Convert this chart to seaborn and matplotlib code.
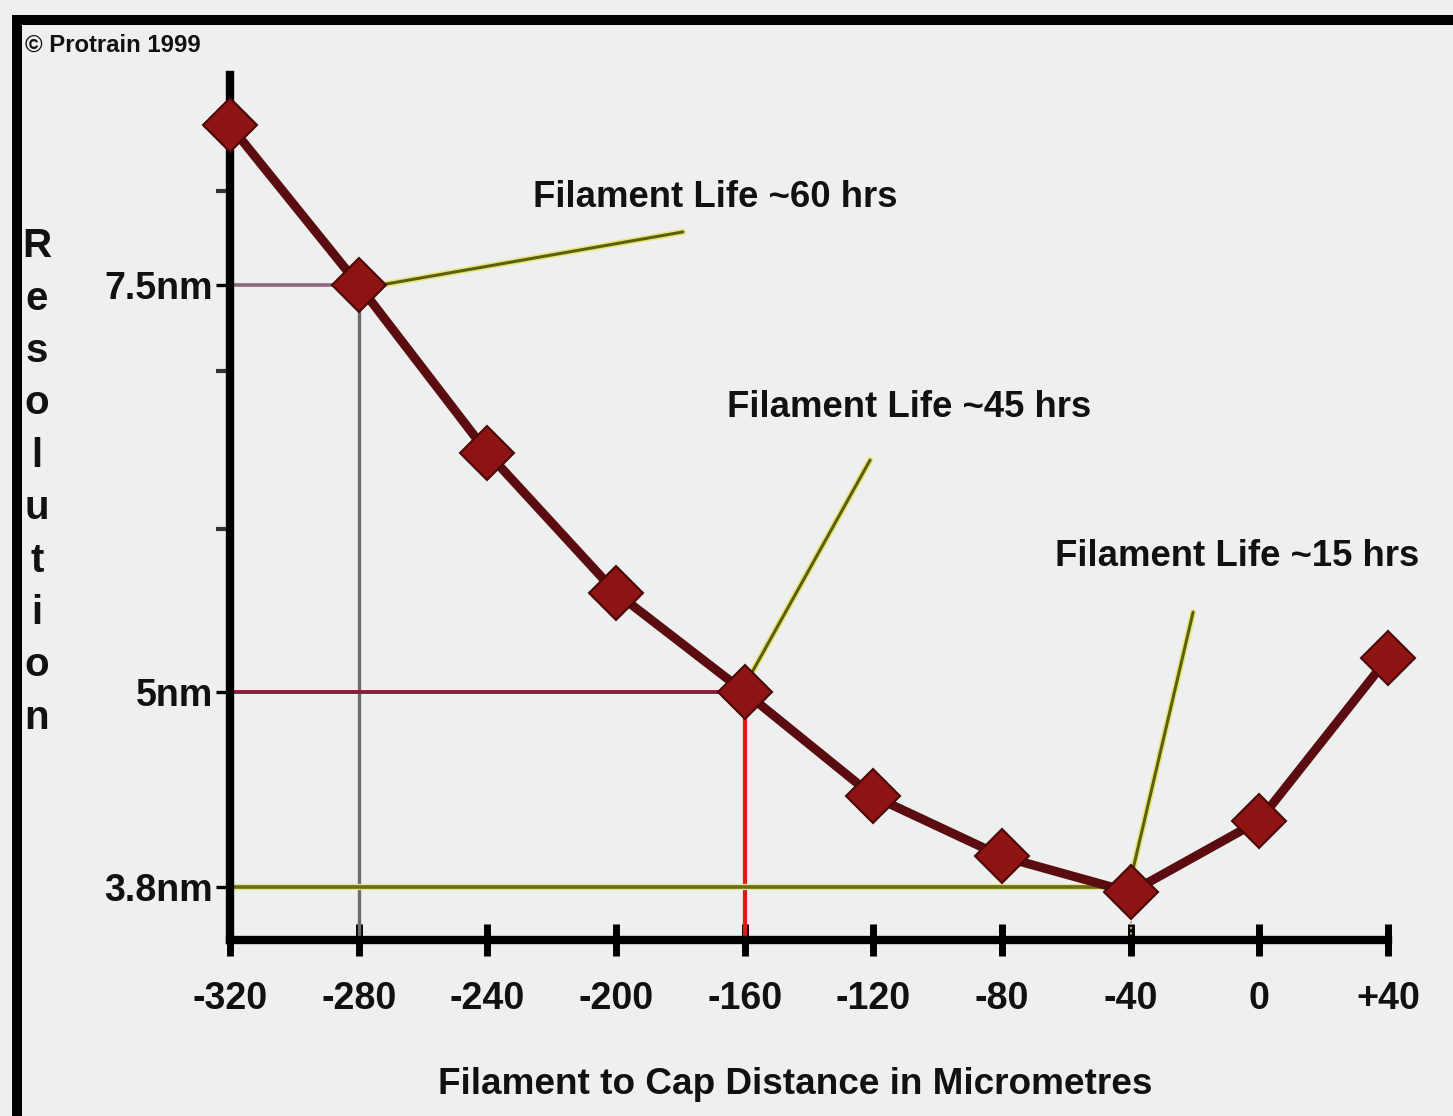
import matplotlib
matplotlib.use("Agg")
import matplotlib.pyplot as plt
import matplotlib.patheffects as pe
from matplotlib import font_manager
from matplotlib.patches import Rectangle
import seaborn as sns
import pandas as pd

# ---------------- data ----------------
distance = [-320, -280, -240, -200, -160, -120, -80, -40, 0, 40]
resolution = [8.48, 7.5, 6.47, 5.61, 5.0, 4.36, 3.99, 3.77, 4.21, 5.21]
x_tick_values = [-320, -280, -240, -200, -160, -120, -80, -40, 0, 40]
x_tick_labels = ["-320", "-280", "-240", "-200", "-160", "-120", "-80", "-40", "0", "+40"]
y_tick_values = [3.8, 5.0, 7.5]
y_tick_labels = ["3.8nm", "5nm", "7.5nm"]
y_minor_values = [6.0, 6.97, 8.08]
guide_60 = (-280, 7.5)
guide_45 = (-160, 5.0)
guide_15 = (-40, 3.8)
notes = ["Filament Life ~60 hrs", "Filament Life ~45 hrs", "Filament Life ~15 hrs"]
note_text_pos = [(-225.8, 8.04), (-165.5, 6.75), (-63.5, 5.835)]
note_leader_start = [(-273.2, 7.5), (-158.3, 5.10), (-40, 3.85)]
note_leader_end = [(-179.2, 7.826), (-121.0, 6.425), (-20.6, 5.49)]

df = pd.DataFrame({"distance": distance, "resolution": resolution})


def has_font(name):
    try:
        font_manager.findfont(font_manager.FontProperties(family=name),
                              fallback_to_default=False)
        return True
    except Exception:
        return False


sns.set_style("white")
NARROW = has_font("Liberation Sans Narrow")
FAM = ["Liberation Sans Narrow", "Liberation Sans", "DejaVu Sans"] if NARROW \
    else ["Liberation Sans", "DejaVu Sans"]
plt.rcParams["font.family"] = FAM
plt.rcParams["font.weight"] = "bold"
S = 1.0 if NARROW else 0.82
FS = 33 * S

BG = "#eeefef"
W, H = 1453, 1116
fig = plt.figure(figsize=(W / 100, H / 100), dpi=100, facecolor=BG)

# frame of the scanned picture
fig.add_artist(Rectangle((12 / W, 1 - 25 / H), 1 - 12 / W, 10 / H,
                         transform=fig.transFigure, color="black", lw=0))
fig.add_artist(Rectangle((12 / W, 0), 10 / W, 1 - 15 / H,
                         transform=fig.transFigure, color="black", lw=0))

ax = fig.add_axes([230 / W, 1 - 940 / H, (1388 - 230) / W, (940 - 75) / H])
ax.set_facecolor("none")
ax.set_xlim(-320, 40)
ax.set_ylim(3.4767, 8.79)

# guide lines
ax.plot([-320, guide_60[0]], [guide_60[1]] * 2, color="#8a6a7a", lw=2.6, zorder=2)
ax.plot([guide_60[0]] * 2, [3.4767, guide_60[1]], color="#6e6a70", lw=2.4, zorder=2)
ax.plot([-320, guide_45[0]], [guide_45[1]] * 2, color="#8c1c3c", lw=2.8, zorder=2)
ax.plot([guide_45[0]] * 2, [3.4767, guide_45[1]], color="#e01a1a", lw=3.0, zorder=2)
ax.plot([-320, guide_15[0]], [guide_15[1]] * 2, color="#6a6c1c", lw=2.6, zorder=2,
        path_effects=[pe.Stroke(linewidth=4.5, foreground="#e4e490"), pe.Normal()])
ax.plot([guide_15[0]] * 2, [3.4767, resolution[7]], color="#c8a060", lw=1.5,
        ls=":", zorder=2)

# main curve
sns.lineplot(data=df, x="distance", y="resolution", ax=ax, color="#5a0c10",
             linewidth=6.5, marker="D", markersize=27, markerfacecolor="#8e1414",
             markeredgecolor="#4a0808", markeredgewidth=1.5, zorder=5,
             clip_on=False)

# annotations
for txt, tp, ls, le in zip(notes, note_text_pos, note_leader_start, note_leader_end):
    ax.plot([ls[0], le[0]], [ls[1], le[1]], color="#5e5e10", lw=2.2, zorder=4,
            solid_capstyle="round",
            path_effects=[pe.Stroke(linewidth=4.5, foreground="#e6e67a"), pe.Normal()])
    ax.text(tp[0], tp[1], txt, fontsize=FS * 0.97, fontweight="bold", color="#111111",
            ha="left", va="center", zorder=6)

# axes styling
for side in ["top", "right"]:
    ax.spines[side].set_visible(False)
for side in ["left", "bottom"]:
    ax.spines[side].set_color("black")
    ax.spines[side].set_linewidth(6)
    ax.spines[side].set_zorder(3)

ax.set_xticks(x_tick_values, x_tick_labels)
ax.set_yticks(y_tick_values, y_tick_labels)
ax.set_yticks(y_minor_values, minor=True)
ax.tick_params(axis="x", which="both", bottom=True, top=False)
ax.tick_params(axis="y", which="both", left=True, right=False)
ax.tick_params(axis="x", direction="inout", length=23, width=5, pad=18,
               labelsize=FS, colors="black")
ax.tick_params(axis="y", which="major", direction="out", length=10, width=2.4,
               pad=2, labelsize=FS, colors="black")
ax.tick_params(axis="y", which="minor", direction="out", length=10, width=3,
               colors="#333333")
for lab in ax.get_xticklabels() + ax.get_yticklabels():
    lab.set_fontweight("bold")
    lab.set_color("#111111")
ax.set_xlabel("")
ax.set_ylabel("")

fig.text(795 / W, 1 - 1085 / H, "Filament to Cap Distance in Micrometres",
         fontsize=FS * 0.98, fontweight="bold", ha="center", va="center",
         color="#111111")
fig.text(37 / W, 1 - 482 / H, "\n".join("Resolution"), fontsize=29,
         fontweight="bold", ha="center", va="center", multialignment="center",
         linespacing=1.48, color="#111111")
fig.text(25 / W, 1 - 45 / H, "\u00a9 Protrain 1999", fontsize=21 * S,
         fontweight="bold", ha="left", va="center", color="#111111")

fig.savefig("out.png", dpi=100, facecolor=BG)
